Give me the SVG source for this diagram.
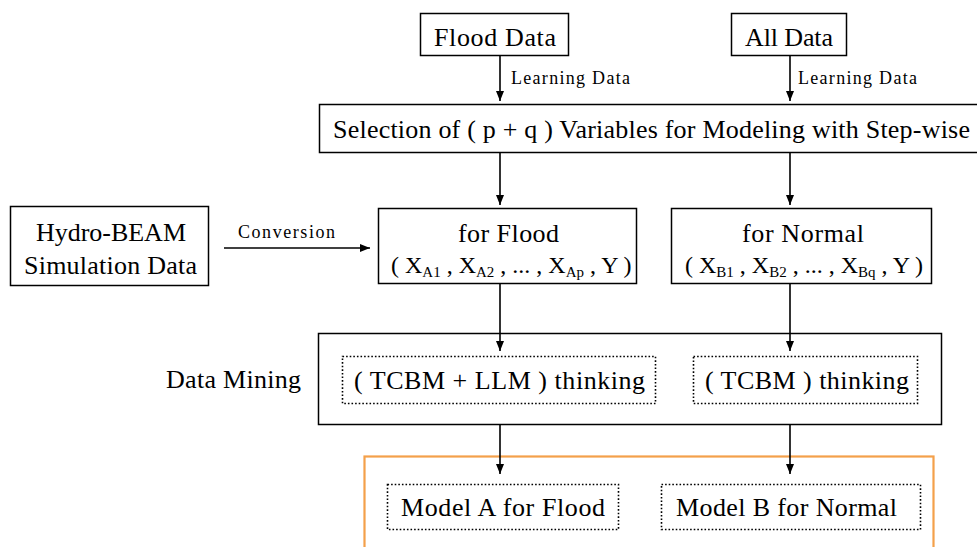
<svg xmlns="http://www.w3.org/2000/svg" width="977" height="547" viewBox="0 0 977 547">
<defs>
<marker id="ah" viewBox="0 0 10 10" refX="10" refY="5" markerWidth="10" markerHeight="8" markerUnits="userSpaceOnUse" orient="auto" preserveAspectRatio="none">
<path d="M0,0 L10,5 L0,10 z" fill="#000"/>
</marker>
<style>
.box{fill:#fff;stroke:#000;stroke-width:1.5}
.dot{fill:none;stroke:#000;stroke-width:1.6;stroke-dasharray:1.6 2}
text{font-family:'Liberation Serif',serif;fill:#000}
.t{font-size:26px}
.f{font-size:24px}
.s{font-size:18px}
.sub{font-size:15px}
.c{stroke:#000;stroke-width:1.6;fill:none;marker-end:url(#ah)}
</style>
</defs>
<rect width="977" height="547" fill="#fff"/>
<g id="orange">
<rect x="364.5" y="456.5" width="569" height="100" fill="none" stroke="#F4A04A" stroke-width="2.2"/>
</g>
<g id="flood-data">
<rect class="box" x="420.5" y="13.5" width="148" height="42"/>
<text class="t" x="434" y="46" textLength="122" lengthAdjust="spacing">Flood Data</text>
</g>
<g id="all-data">
<rect class="box" x="731.5" y="13.5" width="115" height="42"/>
<text class="t" x="745" y="46" textLength="88" lengthAdjust="spacing">All Data</text>
</g>
<g id="selection">
<rect class="box" x="319.5" y="104.5" width="670" height="48"/>
<text class="t" x="333" y="138" textLength="637" lengthAdjust="spacing">Selection of ( p + q ) Variables for Modeling with Step-wise</text>
</g>
<g id="hydro">
<rect class="box" x="10.5" y="206.5" width="198" height="79"/>
<text class="t" x="36" y="241" textLength="150" lengthAdjust="spacing">Hydro-BEAM</text>
<text class="t" x="24" y="274" textLength="173" lengthAdjust="spacing">Simulation Data</text>
</g>
<g id="for-flood">
<rect class="box" x="378.5" y="208.5" width="258" height="75"/>
<text class="t" x="458" y="242" textLength="101" lengthAdjust="spacing">for Flood</text>
<text class="f" x="391" y="273">( X<tspan class="sub" dy="4">A1</tspan><tspan dy="-4"> , X</tspan><tspan class="sub" dy="4">A2</tspan><tspan dy="-4"> , ... , X</tspan><tspan class="sub" dy="4">Ap</tspan><tspan dy="-4"> , Y )</tspan></text>
</g>
<g id="for-normal">
<rect class="box" x="671.5" y="208.5" width="260" height="75"/>
<text class="t" x="742" y="242" textLength="122" lengthAdjust="spacing">for Normal</text>
<text class="f" x="685" y="273">( X<tspan class="sub" dy="4">B1</tspan><tspan dy="-4"> , X</tspan><tspan class="sub" dy="4">B2</tspan><tspan dy="-4"> , ... , X</tspan><tspan class="sub" dy="4">Bq</tspan><tspan dy="-4"> , Y )</tspan></text>
</g>
<g id="data-mining">
<rect class="box" x="318.5" y="333.5" width="623" height="91"/>
<text class="t" x="166" y="388" textLength="135" lengthAdjust="spacing">Data Mining</text>
</g>
<g id="tcbm-llm">
<rect class="dot" x="342.5" y="356.5" width="313" height="47"/>
<text class="t" x="354" y="389" textLength="291" lengthAdjust="spacing">( TCBM + LLM ) thinking</text>
</g>
<g id="tcbm">
<rect class="dot" x="693.5" y="356.5" width="224" height="47"/>
<text class="t" x="705" y="389" textLength="204" lengthAdjust="spacing">( TCBM ) thinking</text>
</g>
<g id="model-a">
<rect class="dot" x="387.5" y="484.5" width="231" height="45"/>
<text class="t" x="401" y="516" textLength="204" lengthAdjust="spacing">Model A for Flood</text>
</g>
<g id="model-b">
<rect class="dot" x="661.5" y="484.5" width="259" height="45"/>
<text class="t" x="676" y="516" textLength="221" lengthAdjust="spacing">Model B for Normal</text>
</g>
<g id="connectors">
<line class="c" x1="500" y1="56" x2="500" y2="101"/>
<line class="c" x1="790" y1="56" x2="790" y2="101"/>
<line class="c" x1="500" y1="153" x2="500" y2="205"/>
<line class="c" x1="790" y1="153" x2="790" y2="205"/>
<line class="c" x1="224" y1="248" x2="370" y2="248"/>
<line class="c" x1="500" y1="284" x2="500" y2="351"/>
<line class="c" x1="790" y1="284" x2="790" y2="351"/>
<line class="c" x1="500" y1="425" x2="500" y2="474"/>
<line class="c" x1="790" y1="425" x2="790" y2="474"/>
<text class="s" x="511" y="84" textLength="119" lengthAdjust="spacing">Learning Data</text>
<text class="s" x="798" y="84" textLength="119" lengthAdjust="spacing">Learning Data</text>
<text class="s" x="238" y="238" textLength="97" lengthAdjust="spacing">Conversion</text>
</g>
</svg>
